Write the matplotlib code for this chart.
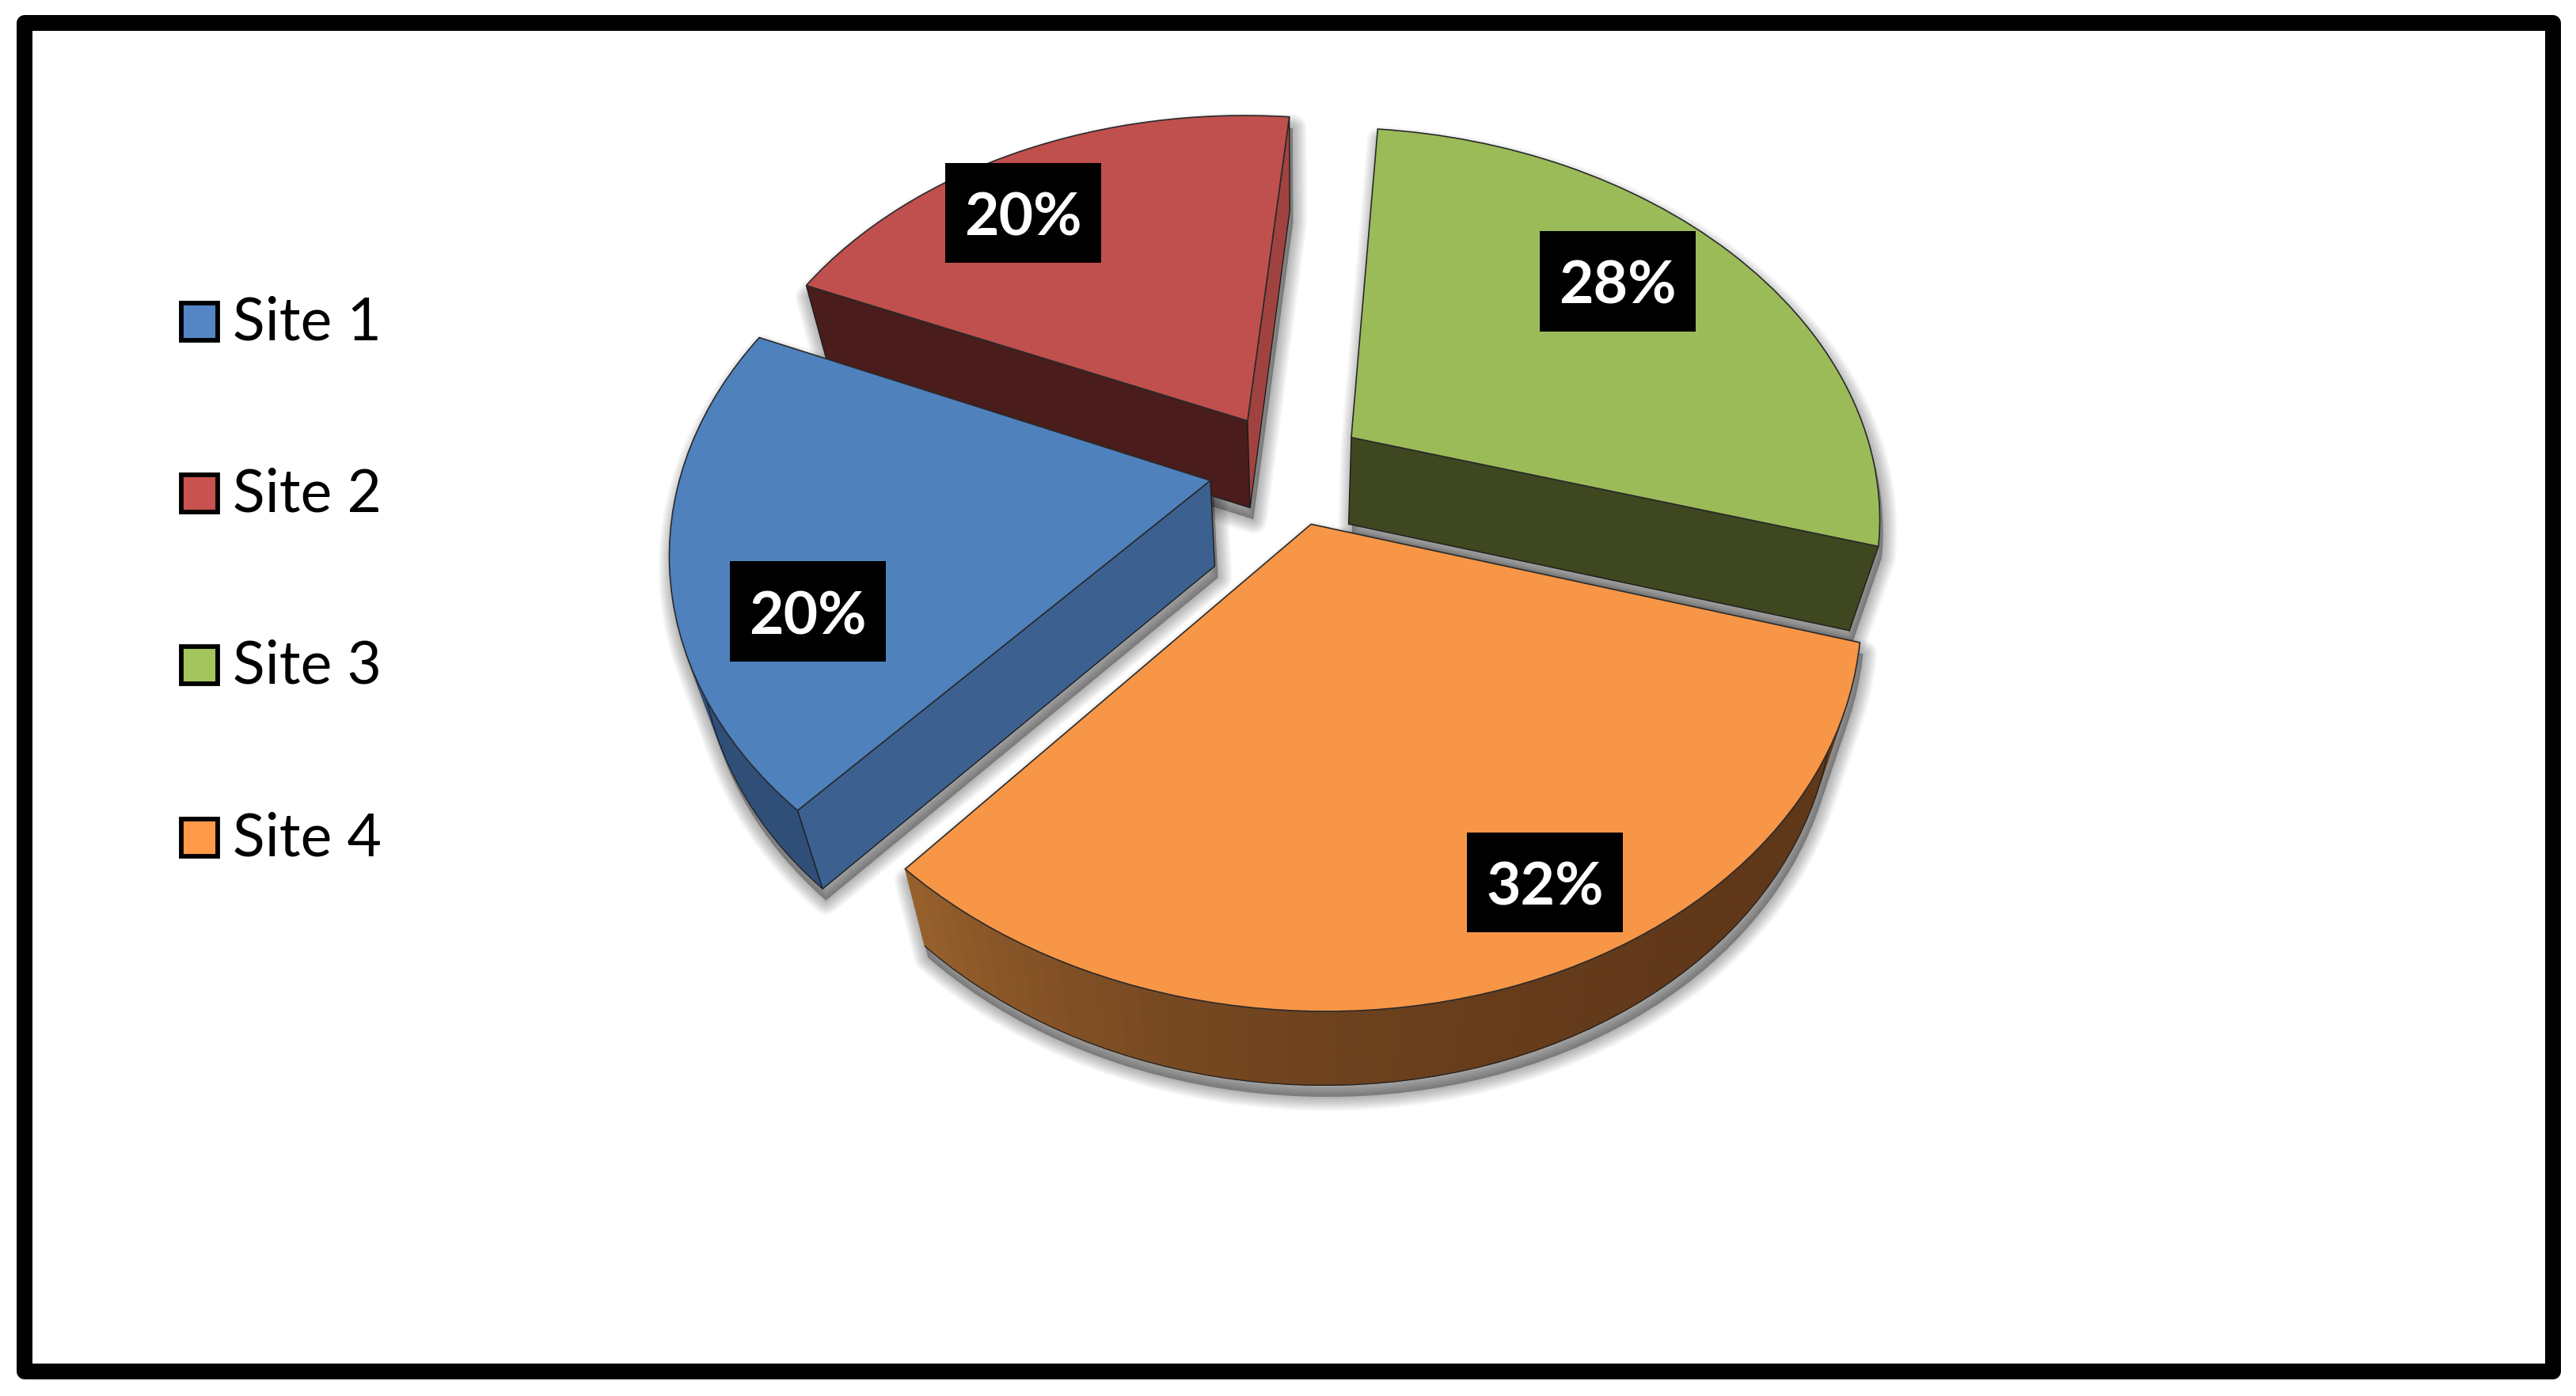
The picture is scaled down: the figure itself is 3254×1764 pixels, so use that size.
import matplotlib
matplotlib.use('Agg')
import matplotlib.pyplot as plt
from matplotlib.patches import Polygon, Rectangle
from matplotlib.transforms import Transform
import numpy as np

# chart data
sites = ['Site 1', 'Site 2', 'Site 3', 'Site 4']
percents = [20, 20, 28, 32]
percent_labels = ['20%', '20%', '28%', '32%']

# colours
top_colors = ['#4F81BD', '#C0504D', '#9BBB59', '#F79646']
legend_colors = ['#5485C4', '#C85250', '#A4C45E', '#FF9B48']
start_wall_colors = ['#3C6190', '#4A1C1C', '#3E4720', '#5F3719']
end_wall_colors = ['#3C6190', '#A04340', '#3E4720', '#96602C']
rim_start_colors = ['#2F4E78', '#8C3A38', '#3E4720', '#5F3719']
rim_end_colors = ['#3F6797', '#8C3A38', '#3E4720', '#96602C']

# the view, everything is placed in the coordinates of the 1568x850 preview
U0, V0 = 783.5, 285.5
A, B, K = 320.0, 229.0, 0.181
TILT = 4.0
EXPLODE = 0.15
START_ANGLE = -130.7


class Perspective(Transform):
    # maps the flat unit pie onto the tilted plane of the chart
    input_dims = 2
    output_dims = 2
    has_inverse = False
    is_separable = False

    def transform_non_affine(self, values):
        values = np.asarray(values, dtype=float)
        s = 1.0 / (1.0 + K * values[:, 1])
        return np.column_stack([U0 + A * values[:, 0] * s,
                                V0 - B * values[:, 1] * s + TILT * values[:, 0] * s])


def extrude(points):
    # bottom layer of the slab, lines converge slightly below the pie
    points = np.asarray(points, dtype=float)
    u = 790 + (points[:, 0] - 790) * 0.95
    v = points[:, 1] + 52 - (points[:, 1] - 300) * 0.022
    return np.column_stack([u, v])


def area(quad):
    x, y = quad[:, 0], quad[:, 1]
    return 0.5 * np.sum(x * np.roll(y, -1) - np.roll(x, -1) * y)


def hull(points):
    pts = sorted(set(map(tuple, np.round(points, 3))))
    def half(seq):
        out = []
        for p in seq:
            while len(out) > 1 and ((out[-1][0] - out[-2][0]) * (p[1] - out[-2][1])
                                    - (out[-1][1] - out[-2][1]) * (p[0] - out[-2][0])) <= 0:
                out.pop()
            out.append(p)
        return out[:-1]
    return np.array(half(pts) + half(pts[::-1]))


def mix(c1, c2, t):
    a = np.array(matplotlib.colors.to_rgb(c1))
    b = np.array(matplotlib.colors.to_rgb(c2))
    return tuple(a + (b - a) * t)


fig = plt.figure(figsize=(32.55, 17.65), dpi=100)
ax = fig.add_axes([0, 0, 1, 1])

persp = Perspective()
wedges, _ = ax.pie(percents, explode=[EXPLODE] * 4, startangle=START_ANGLE, counterclock=False,
                   colors=top_colors, radius=1)
ax.set_xlim(0, 1568)
ax.set_ylim(850, 0)
ax.axis('off')

draw_order = [1, 2, 0, 3]
for rank, i in enumerate(draw_order):
    w = wedges[i]
    cx, cy = w.center
    phi = np.radians(np.linspace(w.theta2, w.theta1, 61))  # clockwise from the start of the slice
    arc = persp.transform(np.column_stack([cx + np.cos(phi), cy + np.sin(phi)]))
    apex = persp.transform(np.array([[cx, cy]]))
    arc_low = extrude(arc)
    apex_low = extrude(apex)

    # soft shadow first, under every slice
    outline = hull(np.vstack([arc, apex, arc_low, apex_low])) + np.array([2.0, 7.0])
    for lw in np.linspace(1, 26, 14):
        ax.add_patch(Polygon(outline, closed=True, facecolor=(0, 0, 0, 0.022), edgecolor=(0, 0, 0, 0.022),
                             linewidth=lw, joinstyle='round', zorder=1))

    z = 10 + rank * 10
    # rim, one little quad per step so the shading can change along it
    for j in range(len(arc) - 1):
        quad = np.array([arc[j], arc[j + 1], arc_low[j + 1], arc_low[j]])
        if area(quad) < 0:
            t = (j / (len(arc) - 2)) ** 3
            col = mix(rim_start_colors[i], rim_end_colors[i], t)
            ax.add_patch(Polygon(quad, closed=True, facecolor=col, edgecolor=col, linewidth=0.8, zorder=z))
    ax.plot(arc_low[:, 0], arc_low[:, 1], color='#222222', linewidth=0.9, zorder=z + 1)

    # the two cut faces, only the ones facing the viewer
    start_quad = np.array([apex[0], arc[0], arc_low[0], apex_low[0]])
    end_quad = np.array([arc[-1], apex[0], apex_low[0], arc_low[-1]])
    if area(start_quad) < 0:
        ax.add_patch(Polygon(start_quad, closed=True, facecolor=start_wall_colors[i], edgecolor='#1c1c1c',
                             linewidth=1.0, zorder=z + 2))
    if area(end_quad) < 0:
        ax.add_patch(Polygon(end_quad, closed=True, facecolor=end_wall_colors[i], edgecolor='#1c1c1c',
                             linewidth=1.0, zorder=z + 2))

    # top face
    w.set_transform(persp + ax.transData)
    w.set_edgecolor('#2a2a2a')
    w.set_linewidth(1.2)
    w.set_zorder(z + 3)
    w.set_clip_on(False)

# data labels
label_xy = [(491.5, 372.5), (622.5, 130), (984.5, 171.5), (940, 537.5)]
for (x, y), txt in zip(label_xy, percent_labels):
    ax.add_patch(Rectangle((x - 47.5, y - 30.5), 95, 61, facecolor='black', edgecolor='none', zorder=60))
    ax.text(x, y + 3.0, txt, color='white', fontsize=54, fontweight='bold', family='Lato',
            ha='center', va='center', zorder=61)

# legend
for i, site in enumerate(sites):
    y = 184.7 + i * 104.7
    ax.add_patch(Rectangle((110.3, y), 22.2, 22.7, facecolor=legend_colors[i], edgecolor='black',
                           linewidth=4.2, joinstyle='miter', zorder=60))
    ax.text(141.5, y + 21.9, site, color='black', fontsize=54, family='Lato', ha='left', va='baseline', zorder=61)

# outer frame
ax.add_patch(Rectangle((14.9, 14.45), 1553.7 - 14.9, 835 - 14.45, facecolor='none', edgecolor='black',
                       linewidth=14.4, joinstyle='round', zorder=70))

fig.savefig('out.png', dpi=100)
